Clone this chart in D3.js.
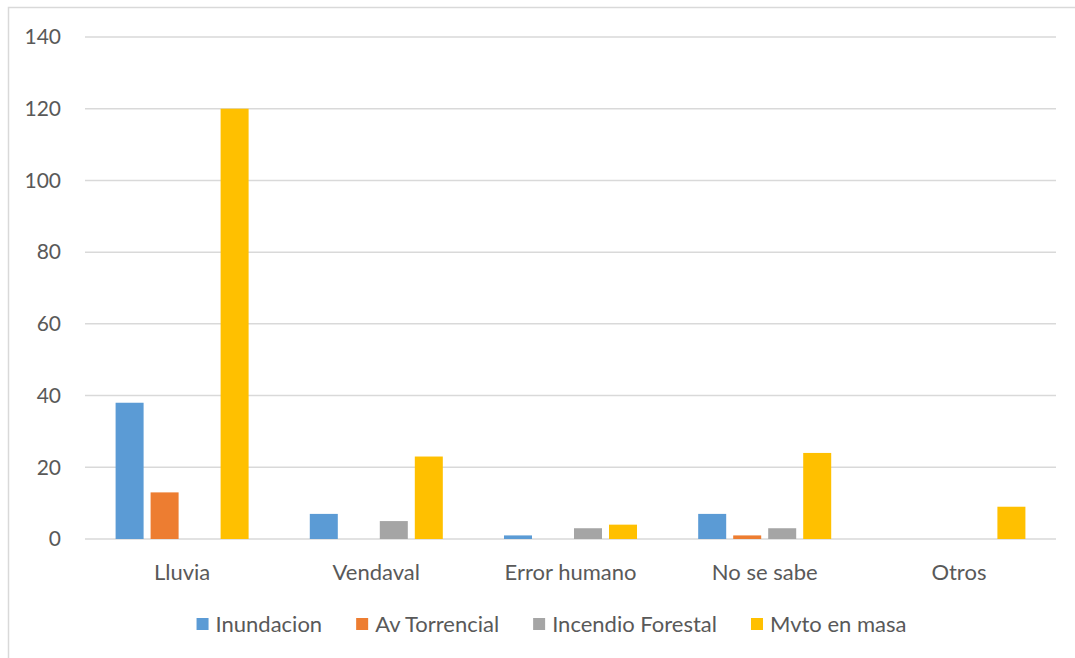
<!DOCTYPE html>
<html><head><meta charset="utf-8">
<script src="https://cdn.jsdelivr.net/npm/d3@7"></script>
<style>html,body{margin:0;padding:0;background:#fff;}svg{display:block;font-family:Lato,"Open Sans",sans-serif;}</style>
</head><body>
<svg id="c" width="1075" height="658"></svg>
<script>
const categories = ["Lluvia","Vendaval","Error humano","No se sabe","Otros"];
const seriesNames = ["Inundacion","Av Torrencial","Incendio Forestal","Mvto en masa"];
const inundacion = [38,7,1,7,0];
const avTorrencial = [13,0,0,1,0];
const incendioForestal = [0,5,3,3,0];
const mvtoEnMasa = [120,23,4,24,9];
const yTicks = [0,20,40,60,80,100,120,140];
const colors = ["#5B9BD5","#ED7D31","#A5A5A5","#FFC000"];

const seriesValues = [inundacion, avTorrencial, incendioForestal, mvtoEnMasa];
const svg = d3.select("#c");
const W = 1075, H = 658;
const plot = {left:85, right:1056, top:37, bottom:539};

// chart border
svg.append("rect").attr("x",8.5).attr("y",7.5).attr("width",W+10).attr("height",H+10)
  .attr("fill","#fff").attr("stroke","#D9D9D9").attr("stroke-width",1.5);

const y = d3.scaleLinear().domain([0,140]).range([plot.bottom, plot.top]);
const x0 = d3.scaleBand().domain(categories).range([plot.left, plot.right]).paddingInner(0).paddingOuter(0);
const x1 = d3.scaleBand().domain(seriesNames).range([0, x0.bandwidth()]).paddingInner(0.2).paddingOuter(0.874);

// gridlines
svg.append("g").selectAll("line").data(yTicks).join("line")
  .attr("x1",plot.left).attr("x2",plot.right)
  .attr("y1",d=>y(d)).attr("y2",d=>y(d))
  .attr("stroke","#D9D9D9").attr("stroke-width",1.5);

// y axis labels
const yAxis = d3.axisLeft(y).tickValues(yTicks).tickSize(0).tickPadding(0);
const ya = svg.append("g").attr("transform","translate(61,0)").call(yAxis);
ya.select(".domain").remove();
ya.selectAll("text").attr("font-size",21).attr("fill","#595959").attr("font-family","Lato,sans-serif");

// bars
const rows = categories.map((c,i)=>({cat:c, vals: seriesNames.map((s,j)=>({s, j, v: seriesValues[j][i]}))}));
const g = svg.append("g").selectAll("g").data(rows).join("g")
  .attr("transform",d=>`translate(${x0(d.cat)},0)`);
g.selectAll("rect").data(d=>d.vals.filter(v=>v.v>0)).join("rect")
  .attr("x",d=>x1(d.s)).attr("width",x1.bandwidth())
  .attr("y",d=>y(d.v)).attr("height",d=>y(0)-y(d.v))
  .attr("fill",d=>colors[d.j]);

// x axis labels
const xAxis = d3.axisBottom(x0).tickSize(0).tickPadding(0);
const xa = svg.append("g").attr("transform",`translate(0,572)`).call(xAxis);
xa.select(".domain").remove();
xa.selectAll("text").attr("font-size",22).attr("fill","#595959").attr("dy","0.35em").attr("font-family","Lato,sans-serif");

// legend
const legend = svg.append("g");
const items = legend.selectAll("g").data(seriesNames).join("g");
items.append("rect").attr("width",12).attr("height",12).attr("y",-6).attr("fill",(d,i)=>colors[i]);
items.append("text").attr("x",19).attr("dy","0.35em").attr("font-size",22).attr("fill","#595959").text(d=>d);
const widths = [];
items.each(function(){ widths.push(19 + this.querySelector("text").getComputedTextLength()); });
const gap = 34;
const total = d3.sum(widths) + gap*(widths.length-1);
let start = 551.5 - total/2;
items.attr("transform",(d,i)=>{ const t = `translate(${start},624)`; start += widths[i]+gap; return t; });
</script>
</body></html>
